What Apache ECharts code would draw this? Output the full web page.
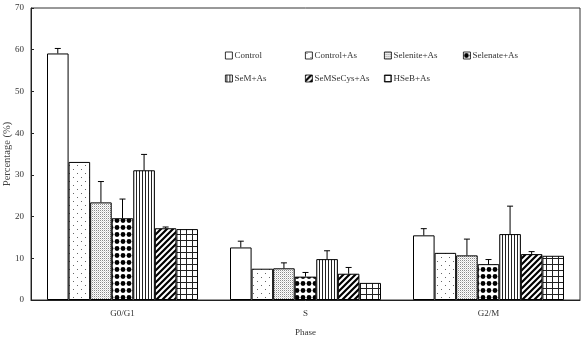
<!DOCTYPE html>
<html lang="en">
<head>
    <meta charset="utf-8">
    <title>Cell cycle phases</title>
    <script src="https://cdn.jsdelivr.net/npm/echarts@6/dist/echarts.min.js"></script>
    <style>
        html, body { margin: 0; padding: 0; background: #fff; }
        #chart { width: 583px; height: 340px; }
    </style>
</head>
<body>
<div id="chart"></div>
<script type="text/javascript">
    // data
    var phases = ['G0/G1', 'S', 'G2/M'];
    var groups = ['Control', 'Control+As', 'Selenite+As', 'Selenate+As', 'SeM+As', 'SeMSeCys+As', 'HSeB+As'];
    var control = [59.1, 12.6, 15.5];
    var controlAs = [33.1, 7.5, 11.3];
    var seleniteAs = [23.4, 7.6, 10.7];
    var selenateAs = [19.6, 5.6, 8.6];
    var semAs = [31.1, 9.8, 15.8];
    var semsecysAs = [17.2, 6.3, 11.0];
    var hsebAs = [17.0, 4.1, 10.6];
    // upper error (SD) per group
    var controlSd = [1.2, 1.5, 1.6];
    var controlAsSd = [0, 0, 0];
    var seleniteAsSd = [5.0, 1.3, 3.9];
    var selenateAsSd = [4.6, 1.0, 1.1];
    var semAsSd = [3.8, 2.0, 6.7];
    var semsecysAsSd = [0.3, 1.5, 0.6];
    var hsebAsSd = [0, 0, 0];
    var yTicks = [0, 70, 10];

    var values = [control, controlAs, seleniteAs, selenateAs, semAs, semsecysAs, hsebAs];
    var sds = [controlSd, controlAsSd, seleniteAsSd, selenateAsSd, semAsSd, semsecysAsSd, hsebAsSd];

    function makePattern(w, h, draw)
    {
        var c = document.createElement('canvas');
        c.width = w;
        c.height = h;
        var ctx = c.getContext('2d');
        ctx.fillStyle = '#fff';
        ctx.fillRect(0, 0, w, h);
        ctx.fillStyle = '#000';
        ctx.strokeStyle = '#000';
        draw(ctx);
        return {image: c, repeat: 'repeat'};
    }

    var fills = [
        '#ffffff',
        makePattern(8, 8, function (ctx) {
            ctx.fillStyle = '#666';
            ctx.fillRect(1, 1, 1, 1);
            ctx.fillRect(5, 5, 1, 1);
        }),
        makePattern(2, 2, function (ctx) {
            ctx.fillStyle = '#8a8a8a';
            ctx.fillRect(0, 0, 1, 1);
            ctx.fillStyle = '#d8d8d8';
            ctx.fillRect(1, 1, 1, 1);
        }),
        makePattern(6, 7, function (ctx) {
            ctx.beginPath();
            ctx.arc(3, 3.5, 2.4, 0, Math.PI * 2);
            ctx.fill();
        }),
        makePattern(3, 1, function (ctx) {
            ctx.fillStyle = '#222';
            ctx.fillRect(1, 0, 1, 1);
        }),
        makePattern(6, 6, function (ctx) {
            ctx.lineWidth = 2.2;
            ctx.beginPath();
            ctx.moveTo(-1, 7); ctx.lineTo(7, -1);
            ctx.moveTo(-4, 4); ctx.lineTo(4, -4);
            ctx.moveTo(2, 10); ctx.lineTo(10, 2);
            ctx.stroke();
        }),
        makePattern(6, 6, function (ctx) {
            ctx.fillStyle = '#222';
            ctx.fillRect(0, 0, 6, 1);
            ctx.fillRect(0, 0, 1, 6);
        })
    ];

    var gapPct = 17.5;
    var series = groups.map(function (name, i) {
        return {
            name: name,
            type: 'bar',
            barGap: 0,
            barCategoryGap: gapPct + '%',
            itemStyle: {color: fills[i], borderColor: '#000', borderWidth: 1},
            data: values[i]
        };
    });

    var errData = [];
    values.forEach(function (vals, i) {
        vals.forEach(function (v, j) {
            if (sds[i][j] > 0) errData.push([j, v + sds[i][j], v, i]);
        });
    });

    series.push({
        type: 'custom',
        name: 'err',
        z: 5,
        encode: {x: 0, y: [1, 2]},
        data: errData,
        renderItem: function (params, api)
        {
            var cat = api.value(0);
            var top = api.coord([cat, api.value(1)]);
            var base = api.coord([cat, api.value(2)]);
            var catW = api.size([1, 0])[0];
            var barW = catW * (1 - gapPct / 100) / groups.length;
            var x = base[0] + (api.value(3) - (groups.length - 1) / 2) * barW;
            var st = {stroke: '#000', lineWidth: 1};
            return {
                type: 'group',
                children: [
                    {type: 'line', shape: {x1: x, y1: base[1], x2: x, y2: top[1]}, style: st},
                    {type: 'line', shape: {x1: x - 3, y1: top[1], x2: x + 3, y2: top[1]}, style: st}
                ]
            };
        }
    });

    var legendCols = [225, 305, 384, 463];
    var legendRows = [49, 72];
    var legends = groups.map(function (name, i) {
        return {
            data: [name],
            left: legendCols[i % 4] - 2,
            top: legendRows[Math.floor(i / 4)],
            padding: 2,
            itemWidth: 7,
            itemHeight: 7,
            itemGap: 2,
            icon: 'rect',
            itemStyle: {borderWidth: 0.8, borderColor: '#000'},
            textStyle: {fontFamily: 'Liberation Serif', fontSize: 9, color: '#333', padding: [0, 0, 0, -3]}
        };
    });

    var labelFont = {fontFamily: 'Liberation Serif', fontSize: 9, color: '#333'};

    var chart = echarts.init(document.getElementById('chart'));
    chart.setOption({
        animation: false,
        backgroundColor: '#fff',
        grid: {
            left: 31, right: 3, top: 8, bottom: 40,
            outerBoundsMode: 'none', containLabel: false,
            show: true, borderColor: '#333', borderWidth: 1
        },
        legend: legends,
        xAxis: {
            type: 'category',
            data: phases,
            name: 'Phase',
            nameLocation: 'middle',
            nameGap: 28,
            nameMoveOverlap: false,
            nameTextStyle: labelFont,
            axisLine: {lineStyle: {color: '#222', width: 1}},
            axisTick: {inside: true, length: 3, lineStyle: {color: '#222'}},
            axisLabel: Object.assign({margin: 9}, labelFont)
        },
        yAxis: {
            type: 'value',
            min: yTicks[0],
            max: yTicks[1],
            interval: yTicks[2],
            name: 'Percentage (%)',
            nameLocation: 'middle',
            nameGap: 18,
            nameMoveOverlap: false,
            nameTextStyle: Object.assign({}, labelFont, {fontSize: 10.5, color: '#444'}),
            axisLine: {show: true, lineStyle: {color: '#222', width: 1}},
            axisTick: {show: true, inside: true, length: 3, lineStyle: {color: '#222'}},
            splitLine: {show: false},
            axisLabel: Object.assign({margin: 7}, labelFont)
        },
        series: series
    });
</script>
</body>
</html>
